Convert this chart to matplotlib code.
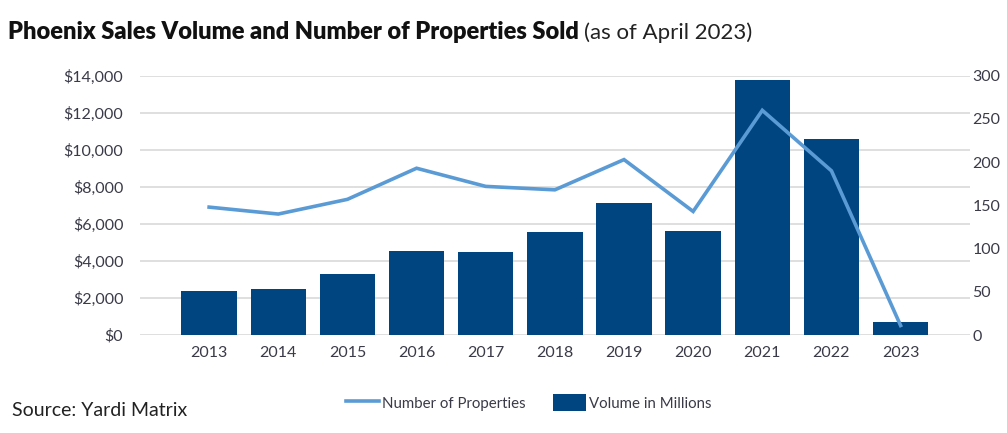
# Phoenix sales volume (bars) and number of properties sold (line)
import numpy as np
import matplotlib.pyplot as plt
from matplotlib.lines import Line2D
from matplotlib.patches import Patch

plt.rcParams['font.family'] = ['Lato', 'DejaVu Sans']

years = ['2013', '2014', '2015', '2016', '2017', '2018', '2019', '2020', '2021', '2022', '2023']
volume = [2360, 2470, 3290, 4550, 4500, 5540, 7110, 5600, 13790, 10600, 690]
properties = [148, 140, 157, 193, 172, 168, 203, 143, 260, 190, 11]

bar_color = '#00457f'
line_color = '#5b9bd5'
text_color = '#3a3a48'

x = np.arange(len(years))

fig = plt.figure(figsize=(10.07, 4.33), dpi=100)
ax = fig.add_axes([0.139, 0.2263, 0.824, 0.5987])
ax2 = ax.twinx()

ax.bar(x, volume, width=0.8, color=bar_color, zorder=2)
ax2.plot(x, properties, color=line_color, linewidth=2.6, solid_joinstyle='miter', zorder=3)

ax.set_xlim(-1, len(years))
ax.set_ylim(0, 14000)
ax2.set_ylim(0, 300)
ax.set_yticks(np.arange(0, 14001, 2000))
ax.set_yticklabels(['${:,}'.format(v) for v in range(0, 14001, 2000)])
ax2.set_yticks(np.arange(0, 301, 50))
ax.set_xticks(x)
ax.set_xticklabels(years)

ax.grid(axis='y', color='#d9d9d9', linewidth=1.2, zorder=0)
ax.set_axisbelow(True)
for a in (ax, ax2):
    for s in a.spines.values():
        s.set_visible(False)
    a.tick_params(length=0, labelsize=11.5, labelcolor=text_color)
ax.tick_params(axis='y', pad=12)
ax.tick_params(axis='x', pad=8)
ax2.tick_params(axis='y', pad=2)
ax2.set_zorder(ax.get_zorder() + 1)
ax2.patch.set_visible(False)

# title: bold part plus lighter suffix
t = fig.text(0.008, 0.925, 'Phoenix Sales Volume and Number of Properties Sold',
             fontsize=17, fontweight='heavy', color='#111111', va='center')
fig.canvas.draw()
bb = t.get_window_extent()
fig.text(bb.x1 / fig.bbox.width + 0.005, 0.925, '(as of April 2023)',
         fontsize=16, fontweight='normal', color='#222222', va='center')

fig.text(0.012, 0.053, 'Source: Yardi Matrix', fontsize=14, color='#222222', va='center')

handles = [Line2D([0], [0], color=line_color, linewidth=2.6),
           Patch(facecolor=bar_color)]
fig.legend(handles, ['Number of Properties', 'Volume in Millions'],
           loc='center', bbox_to_anchor=(0.525, 0.07), ncol=2, frameon=False,
           fontsize=10.8, labelcolor=text_color, handlelength=2.2, handleheight=1.4,
           handletextpad=0.2, columnspacing=1.8)

fig.savefig('out.png', dpi=100)
